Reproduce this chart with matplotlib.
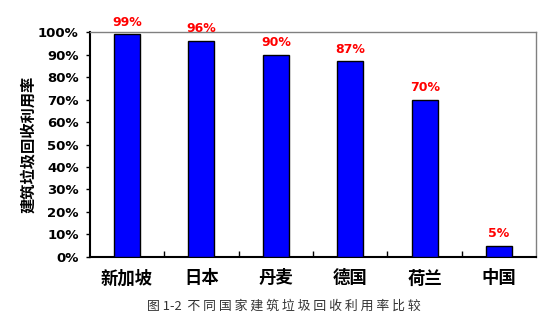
import matplotlib
matplotlib.use("Agg")
import matplotlib.pyplot as plt
from matplotlib.ticker import FuncFormatter

plt.rcParams['font.family'] = ['Noto Sans CJK SC', 'DejaVu Sans']

countries = ['新加坡', '日本', '丹麦', '德国', '荷兰', '中国']
values = [99, 96, 90, 87, 70, 5]
yticks = [0, 10, 20, 30, 40, 50, 60, 70, 80, 90, 100]
caption_prefix = '图 1-2'
caption_body = '不同国家建筑垃圾回收利用率比较'

fig = plt.figure(figsize=(5.58, 3.24), dpi=100)
ax = fig.add_axes([0.161, 0.207, 0.800, 0.694])

x = list(range(len(countries)))
ax.bar(x, values, width=0.35, color='#0000ff', edgecolor='black', linewidth=1.0, zorder=3)
for xi, v in zip(x, values):
    ax.text(xi, v + 2.5, f'{v}%', ha='center', va='bottom', color='red',
            fontsize=9, fontweight='bold', family='DejaVu Sans')

ax.set_xlim(-0.5, len(countries) - 0.5)
ax.set_ylim(0, 100)
ax.set_yticks(yticks)
ax.yaxis.set_major_formatter(FuncFormatter(lambda v, p: f'{int(v)}%'))
for lab in ax.get_yticklabels():
    lab.set_fontweight('bold')
    lab.set_family('DejaVu Sans')
    lab.set_fontsize(9.5)
ax.tick_params(axis='y', direction='out', length=3, width=1, pad=5)

ax.set_xticks(x)
ax.set_xticklabels(countries, fontsize=12.5, fontweight='bold')
ax.set_xticks([i + 0.5 for i in x[:-1]], minor=True)
ax.tick_params(axis='x', which='major', length=0, pad=9)
ax.tick_params(axis='x', which='minor', direction='in', length=4, width=1)

ax.spines['left'].set_linewidth(1.5)
ax.spines['bottom'].set_linewidth(1.5)
ax.spines['top'].set_color('#808080')
ax.spines['right'].set_color('#808080')
ax.spines['top'].set_linewidth(1.0)
ax.spines['right'].set_linewidth(1.0)

ax.set_ylabel('建筑垃圾回收利用率', fontsize=11, fontweight='bold', labelpad=1)

caption = caption_prefix + '  ' + ' '.join(caption_body)
fig.text(0.509, 0.055, caption, ha='center', va='center',
         fontsize=9.3, color='#333333', fontweight='light')

fig.savefig('out.png', dpi=100)
